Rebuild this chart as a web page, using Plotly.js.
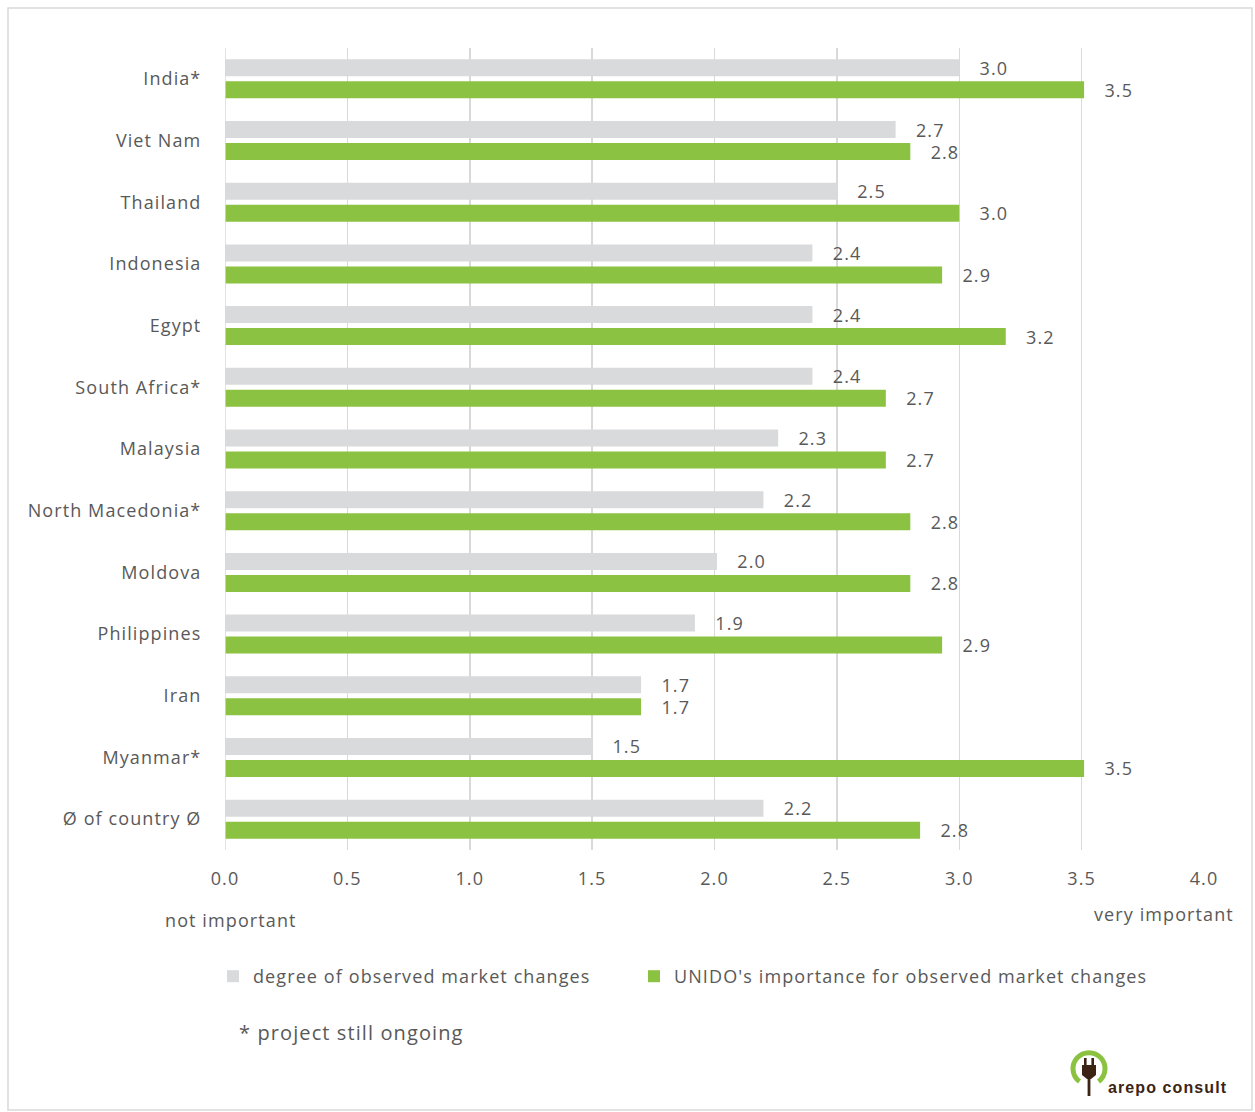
<!DOCTYPE html>
<html>
<head>
<meta charset="utf-8">
<script src="https://cdn.plot.ly/plotly-3.0.1.min.js"></script>
<style>html,body{margin:0;padding:0;background:#fff;}#chart{width:1255px;height:1112px;}
svg text{letter-spacing:1.1px;}</style>
</head>
<body>
<div id="chart"></div>
<script>
const countries = ["India*", "Viet Nam", "Thailand", "Indonesia", "Egypt", "South Africa*", "Malaysia", "North Macedonia*", "Moldova", "Philippines", "Iran", "Myanmar*", "Ø of country Ø"];
const observedChanges = [3.0, 2.74, 2.5, 2.4, 2.4, 2.4, 2.26, 2.2, 2.01, 1.92, 1.7, 1.5, 2.2];
const unidoImportance = [3.51, 2.8, 3.0, 2.93, 3.19, 2.7, 2.7, 2.8, 2.8, 2.93, 1.7, 3.51, 2.84];
const seriesNames = ["degree of observed market changes", "UNIDO's importance for observed market changes"];
const xTicks = [0, 0.5, 1, 1.5, 2, 2.5, 3, 3.5, 4];

const FONT = "Open Sans, Liberation Sans, Arial, sans-serif";
const TXT = "#595959";
const GRAY = "#d9dadb";
const GREEN = "#8cc241";
const pad = "\u00a0\u00a0\u00a0";

const traces = [
  {type: "bar", orientation: "h", name: seriesNames[0], legend: "legend", y: countries, x: observedChanges,
   marker: {color: GRAY}, texttemplate: pad + "%{x:.1f}", textposition: "outside",
   textfont: {family: FONT, size: 18, color: TXT}, cliponaxis: false, constraintext: "none", hoverinfo: "x+y"},
  {type: "bar", orientation: "h", name: seriesNames[1], legend: "legend2", y: countries, x: unidoImportance,
   marker: {color: GREEN}, texttemplate: pad + "%{x:.1f}", textposition: "outside",
   textfont: {family: FONT, size: 18, color: TXT}, cliponaxis: false, constraintext: "none", hoverinfo: "x+y"}
];

const W = 979, H = 802, L = 225, T = 48;
const px = v => (v - L) / W;
const py = v => (T + H - v) / H;

const logoSvg = '<svg xmlns="http://www.w3.org/2000/svg" width="46" height="50" viewBox="0 0 46 50">' +
  '<path d="M13.5 33.5 A16 16 0 1 1 32.5 33.5" fill="none" stroke="#8cc241" stroke-width="5"/>' +
  '<rect x="18" y="10" width="2.6" height="8" fill="#3d2314"/><rect x="25.4" y="10" width="2.6" height="8" fill="#3d2314"/>' +
  '<path d="M16 17 H30 V27 L25 31 H21 L16 27 Z" fill="#3d2314"/>' +
  '<rect x="21.6" y="30" width="2.8" height="18" fill="#3d2314"/></svg>';

const legendFont = {family: FONT, size: 18, color: TXT};

const layout = {
  width: 1255, height: 1112,
  margin: {l: L, r: 1255 - L - W, t: T, b: 1112 - T - H},
  paper_bgcolor: "#fff", plot_bgcolor: "#fff",
  font: {family: FONT, size: 18, color: TXT},
  barmode: "group", bargap: 0.287, bargroupgap: 0.227,
  showlegend: true,
  legend: {orientation: "h", x: px(213), xanchor: "left", y: py(958), yanchor: "top",
           font: legendFont, bgcolor: "rgba(0,0,0,0)"},
  legend2: {orientation: "h", x: px(634), xanchor: "left", y: py(958), yanchor: "top",
           font: legendFont, bgcolor: "rgba(0,0,0,0)"},
  xaxis: {range: [0, 4], tickvals: xTicks, tickformat: ".1f", showgrid: true, gridcolor: "#d9d9d9", gridwidth: 1.5,
          zeroline: false, showline: false, ticks: "outside", ticklen: 12, tickcolor: "rgba(0,0,0,0)",
          tickfont: {family: FONT, size: 18, color: TXT}, fixedrange: true},
  yaxis: {type: "category", autorange: "reversed", showgrid: false, zeroline: false, showline: false,
          ticks: "outside", ticklen: 19, tickcolor: "rgba(0,0,0,0)",
          tickfont: {family: FONT, size: 18, color: TXT}, fixedrange: true},
  shapes: [
    {type: "line", xref: "x", yref: "paper", x0: 0, x1: 0, y0: 0, y1: 1, line: {color: "#d9d9d9", width: 1.5}},
    {type: "rect", xref: "paper", yref: "paper", x0: px(8), x1: px(1252), y0: py(1110), y1: py(8),
     line: {color: "#d9d9d9", width: 1.5}, fillcolor: "rgba(0,0,0,0)", layer: "below"}
  ],
  images: [{source: "data:image/svg+xml;utf8," + encodeURIComponent(logoSvg), xref: "paper", yref: "paper",
            x: px(1066), y: py(1048), sizex: 46 / W, sizey: 50 / H, xanchor: "left", yanchor: "top", sizing: "stretch", layer: "above"}],
  annotations: [
    {text: "not important", xref: "paper", yref: "paper", x: px(163), y: py(920), xanchor: "left", yanchor: "middle",
     showarrow: false, font: {family: FONT, size: 18, color: TXT}},
    {text: "very important", xref: "paper", yref: "paper", x: px(1236), y: py(914), xanchor: "right", yanchor: "middle",
     showarrow: false, font: {family: FONT, size: 18, color: TXT}},
    {text: "* project still ongoing", xref: "paper", yref: "paper", x: px(237), y: py(1032), xanchor: "left", yanchor: "middle",
     showarrow: false, font: {family: FONT, size: 20, color: TXT}},
    {text: "<b>arepo consult</b>", xref: "paper", yref: "paper", x: px(1106), y: py(1087), xanchor: "left", yanchor: "middle",
     showarrow: false, font: {family: "Liberation Sans, Arial, sans-serif", size: 16, color: "#3d2314"}}
  ]
};

Plotly.newPlot("chart", traces, layout, {displayModeBar: false, staticPlot: true});
</script>
</body>
</html>
